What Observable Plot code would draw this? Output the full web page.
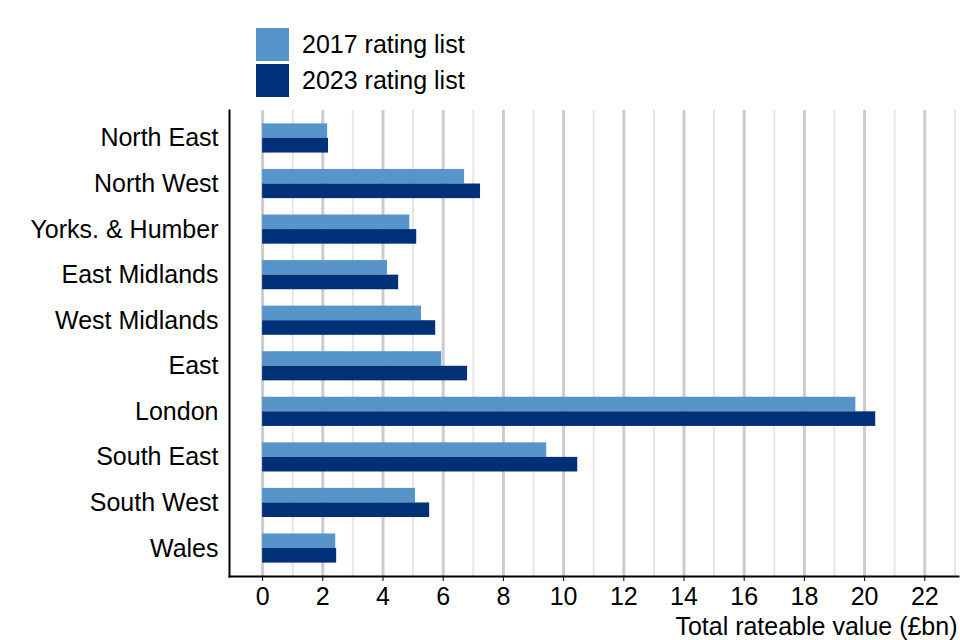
<!DOCTYPE html>
<html><head><meta charset="utf-8">
<script src="https://cdn.jsdelivr.net/npm/d3@7"></script>
<script src="https://cdn.jsdelivr.net/npm/@observablehq/plot@0.6"></script>
<style>
body{margin:0;background:#fff;font-family:"Liberation Sans",Arial,Helvetica,sans-serif;}
#legend{position:relative;height:100px;width:960px;}
.sw{position:absolute;left:256px;width:33px;height:33px;}
.lb{position:absolute;left:302px;font-size:25px;line-height:33px;color:#000;white-space:nowrap;}
#chart svg{display:block;}
</style></head><body>
<div id="legend"></div>
<div id="chart"></div>
<script>
const regions = ["North East","North West","Yorks. & Humber","East Midlands","West Midlands","East","London","South East","South West","Wales"];
const v2017 = [2.16, 6.71, 4.89, 4.15, 5.28, 5.95, 19.71, 9.44, 5.08, 2.43];
const v2023 = [2.19, 7.24, 5.12, 4.52, 5.75, 6.81, 20.37, 10.47, 5.55, 2.46];
const seriesNames = ["2017 rating list", "2023 rating list"];
const seriesColors = ["#5694ca", "#003078"];
const majorTicks = [0, 2, 4, 6, 8, 10, 12, 14, 16, 18, 20, 22];
const minorTicks = [1, 3, 5, 7, 9, 11, 13, 15, 17, 19, 21, 23];
const xLabel = "Total rateable value (£bn)";

// legend
const leg = document.getElementById("legend");
seriesNames.forEach((name, i) => {
  const sw = document.createElement("div");
  sw.className = "sw"; sw.style.top = (28 + i * 36) + "px"; sw.style.background = seriesColors[i];
  const lb = document.createElement("div");
  lb.className = "lb"; lb.style.top = (28 + i * 36) + "px"; lb.textContent = name;
  leg.appendChild(sw); leg.appendChild(lb);
});

const rows2017 = regions.map((r, i) => ({region: r, value: v2017[i]}));
const rows2023 = regions.map((r, i) => ({region: r, value: v2023[i]}));

const base = {
  width: 960, height: 540,
  marginTop: 10, marginBottom: 64, marginLeft: 229, marginRight: 2,
  style: {fontFamily: '"Liberation Sans", Arial, Helvetica, sans-serif', color: "#000", background: "#fff"},
  x: {domain: [-1.1, 23.12]},
  y: {domain: regions, paddingInner: 0.36, paddingOuter: 0.294, align: 0.5, round: false}
};
const probe = Plot.plot({...base, marks: [Plot.barX(rows2017, {x: "value", y: "region"})]});
const bw = probe.scale("y").bandwidth;

const chart = Plot.plot({
  ...base,
  marks: [
    Plot.ruleX(minorTicks, {stroke: "#e6e6e6", strokeWidth: 2}),
    Plot.ruleX(majorTicks, {stroke: "#cccccc", strokeWidth: 3}),
    Plot.barX(rows2017, {x: "value", y: "region", fill: seriesColors[0], insetBottom: bw / 2}),
    Plot.barX(rows2023, {x: "value", y: "region", fill: seriesColors[1], insetTop: bw / 2}),
    Plot.axisY({tickSize: 0, tickPadding: 11, fontSize: 25, label: null}),
    Plot.axisX({ticks: majorTicks, tickSize: 5, tickPadding: 6, fontSize: 25, label: xLabel, labelAnchor: "right", labelOffset: 58, labelArrow: "none"}),
    Plot.frame({anchor: "left", stroke: "#000", strokeWidth: 2}),
    Plot.frame({anchor: "bottom", stroke: "#000", strokeWidth: 2})
  ]
});
document.getElementById("chart").appendChild(chart);
</script>
</body></html>
